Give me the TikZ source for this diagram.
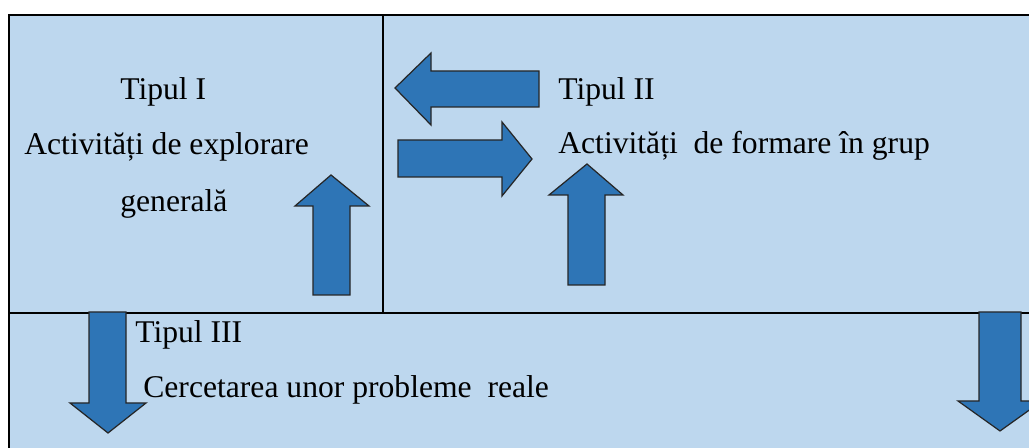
\documentclass[tikz,border=0pt]{standalone}
\usepackage{fontspec}
\setmainfont{Liberation Serif}
\usepackage{tikz}
\definecolor{panelblue}{HTML}{BDD7EE}
\definecolor{arrowblue}{HTML}{2E75B6}
\tikzset{
  frame/.style={line width=1.2pt, draw=black},
  blockarrow/.style={fill=arrowblue, draw=black!85, line width=0.7pt, line join=miter},
  txt/.style={anchor=base west, inner sep=0pt, font=\fontsize{18}{21}\selectfont}
}

\begin{document}
\begin{tikzpicture}[x=0.02cm, y=-0.02cm]
\useasboundingbox (0,0) rectangle (1029,448);
\clip (0,0) rectangle (1029,448);

% panels
\fill [panelblue] (9,15) rectangle (1045,460);
\draw [frame] (1045,15) -- (9,15) -- (9,460);
\draw [frame] (383,15) -- (383,313);
\draw [frame] (9,313) -- (1045,313);

% texts
\node [txt] (tip1) at (120,100) {Tipul I};
\node [txt] (act1) at (24,155) {Activități de explorare};
\node [txt] (gen1) at (120,212) {generală};
\node [txt] (tip2) at (558,100) {Tipul II};
\node [txt] (act2) at (558,154) {Activități~ de formare în grup};
\node [txt] (tip3) at (135,343) {Tipul III};
\node [txt] (cer3) at (143,398) {Cercetarea unor probleme~ reale};

% arrows
\filldraw [blockarrow] (313,295) -- (313,206) -- (295,206) -- (331,175) -- (369,206) -- (350,206) -- (350,295) -- cycle;
\filldraw [blockarrow] (539,71) -- (431,71) -- (431,53) -- (395,88) -- (431,125) -- (431,107) -- (539,107) -- cycle;
\filldraw [blockarrow] (398,140) -- (502,140) -- (502,122) -- (532,159) -- (502,196) -- (502,177) -- (398,177) -- cycle;
\filldraw [blockarrow] (568,285) -- (568,195) -- (549,195) -- (587,164) -- (623,195) -- (605,195) -- (605,285) -- cycle;
%\filldraw [blockarrow] (108,312) -- (108,433);
\filldraw [blockarrow] (89,312) -- (89,403) -- (70,403) -- (108,433) -- (146,403) -- (126,403) -- (126,312) -- cycle;
\filldraw [blockarrow] (979,312) -- (979,401) -- (958,401) -- (1000,431) -- (1042,401) -- (1021,401) -- (1021,312) -- cycle;

\end{tikzpicture}
\end{document}
